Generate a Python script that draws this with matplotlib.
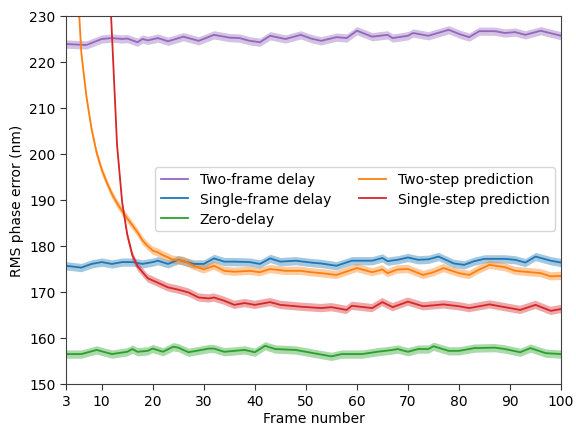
import numpy as np
import matplotlib
matplotlib.use("Agg")
import matplotlib.pyplot as plt

# Values (RMS phase error in nm vs frame number)
two_frame_x = [3, 7, 10, 12, 14, 15, 17, 18, 19, 21, 23, 26, 29, 32, 35, 37, 39, 41, 43, 46,
               49, 51, 53, 56, 58, 60, 63, 66, 67, 70, 71, 74, 78, 80, 82, 84, 87, 89, 91,
               93, 96, 100]
two_frame_y = [223.9, 223.7, 225.0, 225.2, 225.0, 225.1, 224.3, 225.0, 224.7, 225.2, 224.5,
               225.5, 224.6, 225.9, 225.3, 225.2, 224.6, 224.3, 225.7, 225.0, 225.9, 225.1,
               224.6, 225.4, 225.2, 226.8, 225.5, 225.9, 225.2, 225.7, 226.3, 225.7, 227.0,
               226.1, 225.4, 226.7, 226.7, 226.3, 226.5, 225.9, 226.8, 225.7]

single_frame_x = [3, 6, 8, 10, 12, 14, 16, 18, 20, 21, 23, 25, 28, 30, 32, 34, 36, 39, 41, 43,
                  45, 48, 51, 53, 56, 59, 63, 65, 66, 68, 70, 72, 74, 76, 79, 81, 83, 85, 89,
                  91, 93, 95, 98, 100]
single_frame_y = [175.7, 175.3, 176.1, 176.5, 176.1, 176.5, 176.5, 176.1, 176.5, 176.8, 176.1,
                  177.0, 176.1, 176.1, 177.3, 176.6, 176.6, 176.5, 176.1, 177.3, 176.6, 176.8,
                  176.4, 176.2, 175.7, 176.8, 176.8, 177.4, 176.7, 177.0, 177.5, 177.0, 177.1,
                  177.7, 176.2, 175.9, 176.7, 177.2, 177.2, 177.0, 176.4, 177.7, 176.8, 176.4]

zero_delay_x = [3, 6, 9, 12, 15, 16, 17, 19, 20, 22, 24, 25, 27, 31, 32, 34, 38, 40, 42, 44,
                48, 51, 55, 57, 61, 64, 67, 68, 70, 72, 74, 75, 78, 80, 83, 87, 89, 92, 94,
                97, 100]
zero_delay_y = [156.5, 156.5, 157.4, 156.5, 157.0, 157.6, 157.0, 157.2, 157.7, 157.0, 158.1,
                157.9, 156.9, 157.7, 157.7, 157.0, 157.4, 156.9, 158.3, 157.6, 157.4, 156.8,
                156.0, 156.5, 156.5, 157.0, 157.4, 157.6, 157.0, 157.6, 157.6, 158.2, 157.2,
                157.2, 157.8, 157.9, 157.6, 156.9, 157.8, 156.7, 156.5]

two_step_x = [3, 4, 5, 6, 7, 8, 9, 10, 11, 12, 13, 14, 15, 16, 17, 18, 19, 20, 21, 22, 24, 26,
              28, 30, 32, 34, 36, 39, 41, 43, 46, 49, 51, 53, 56, 60, 63, 65, 66, 68, 70, 73,
              75, 77, 80, 82, 84, 86, 89, 91, 94, 96, 98, 100]
two_step_y = [310.0, 268.0, 242.0, 222.0, 212.5, 205.5, 200.3, 196.6, 193.8, 191.3, 189.3,
              187.6, 186.0, 184.5, 183.0, 181.2, 180.0, 179.0, 178.6, 178.0, 177.0, 176.8,
              175.7, 174.9, 175.7, 174.6, 174.4, 174.6, 174.3, 175.0, 174.6, 174.6, 174.3,
              174.1, 173.7, 175.2, 174.3, 174.9, 174.1, 174.9, 175.0, 173.7, 174.3, 175.2,
              174.1, 173.7, 174.9, 175.9, 175.4, 174.6, 174.3, 174.1, 173.4, 173.5]

single_step_x = [3, 5, 7, 9, 10, 11, 12, 13, 14, 15, 16, 17, 19, 21, 23, 25, 27, 29, 31, 32,
                 34, 36, 38, 40, 43, 45, 49, 53, 55, 58, 59, 63, 65, 67, 70, 73, 77, 80, 82,
                 86, 89, 92, 95, 98, 100]
single_step_y = [480.0, 400.0, 340.0, 295.0, 275.0, 250.0, 226.0, 202.0, 189.5, 182.5, 178.0,
                 175.6, 173.0, 172.0, 171.0, 170.5, 169.9, 168.8, 168.6, 168.8, 168.1, 167.2,
                 167.6, 167.2, 167.8, 167.2, 166.8, 166.5, 166.7, 166.1, 167.0, 166.5, 167.8,
                 166.7, 167.9, 166.9, 167.3, 166.9, 166.5, 167.3, 166.7, 166.1, 167.2, 165.9,
                 166.3]

band = 0.9  # half-width of the shaded interval

series = [
    ("Two-frame delay", two_frame_x, two_frame_y, "tab:purple"),
    ("Single-frame delay", single_frame_x, single_frame_y, "tab:blue"),
    ("Zero-delay", zero_delay_x, zero_delay_y, "tab:green"),
    ("Two-step prediction", two_step_x, two_step_y, "tab:orange"),
    ("Single-step prediction", single_step_x, single_step_y, "tab:red"),
]

fig = plt.figure(figsize=(5.76, 4.27), dpi=100)
ax = fig.add_axes([0.1146, 0.0984, 0.8594, 0.8618])

for label, x, y, color in series:
    x = np.array(x)
    y = np.array(y)
    ax.fill_between(x, y - band, y + band, color=color, alpha=0.4, lw=0)
    ax.plot(x, y, color=color, lw=1.3, label=label)

ax.set_xlim(3, 100)
ax.set_ylim(150, 230)
ax.set_xticks([3, 10, 20, 30, 40, 50, 60, 70, 80, 90, 100])
ax.set_yticks(np.arange(150, 231, 10))
ax.set_xlabel("Frame number", fontsize=10, labelpad=2)
ax.set_ylabel("RMS phase error (nm)", fontsize=10)
ax.tick_params(labelsize=10, length=4, color="0.2")
for s in ax.spines.values():
    s.set_color("0.25")

ax.legend(ncol=2, loc="upper left", bbox_to_anchor=(0.18, 0.59), borderaxespad=0,
          fontsize=10, handlelength=2.0, columnspacing=2.0, borderpad=0.4,
          labelspacing=0.4, framealpha=0.8)

plt.savefig("out.png", dpi=100)
